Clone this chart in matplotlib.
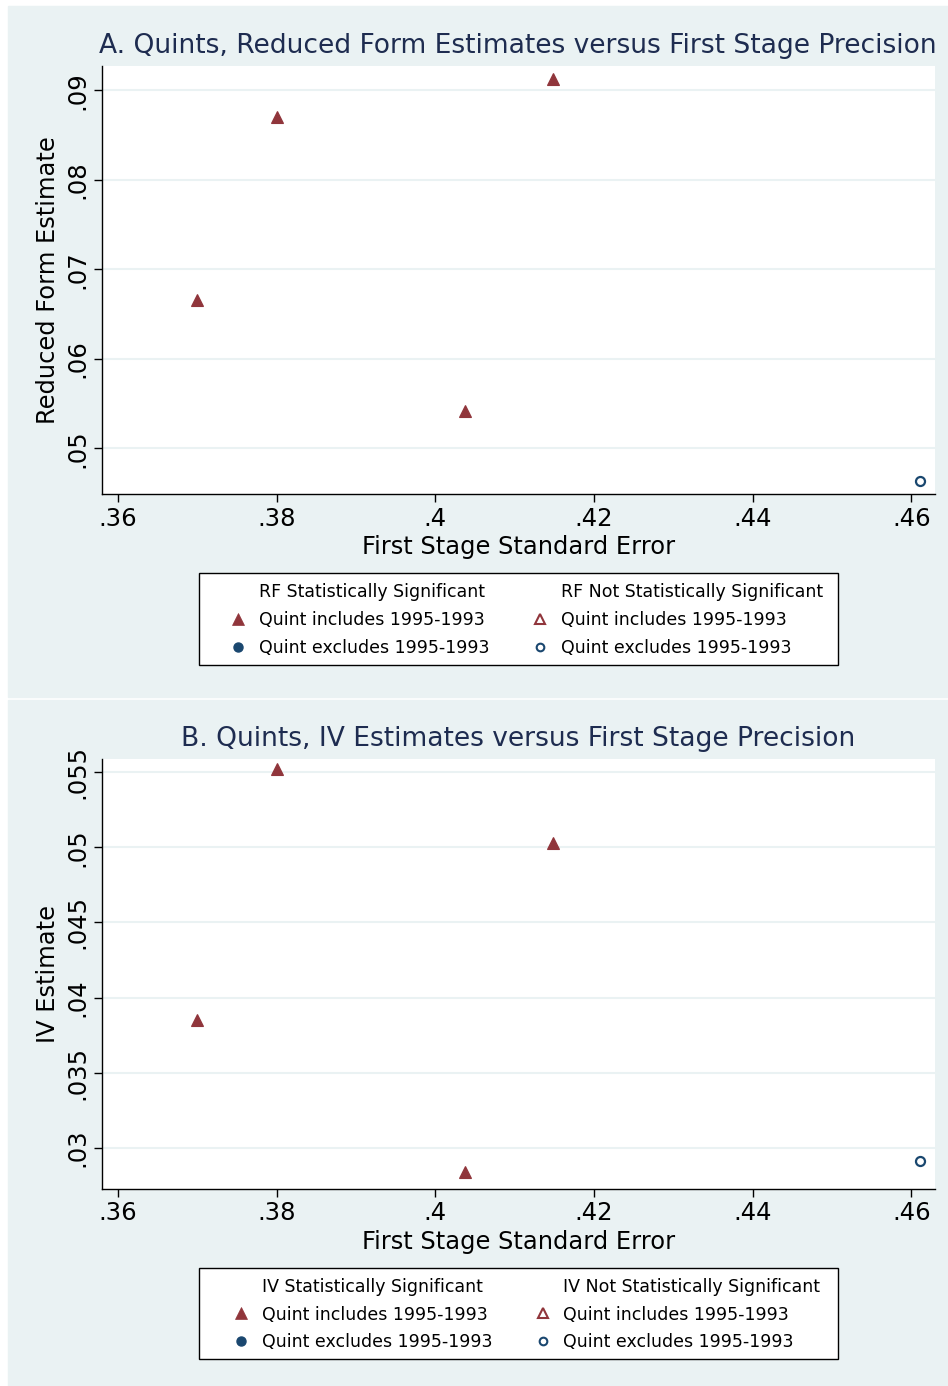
import matplotlib
matplotlib.use("Agg")
import matplotlib.pyplot as plt
from matplotlib.lines import Line2D
from matplotlib.patches import Rectangle

# first stage standard errors of the quints
fs_se = [0.370, 0.380, 0.4038, 0.4149, 0.4611]
# reduced form estimates
rf_est = [0.0666, 0.0870, 0.0542, 0.0912, 0.0464]
# IV estimates
iv_est = [0.0385, 0.0552, 0.0284, 0.0503, 0.0291]
# does the quint include 1995-1993, is the estimate significant
includes = [True, True, True, True, False]
rf_signif = [True, True, True, True, False]
iv_signif = [True, True, True, True, False]

x_ticks = [0.36, 0.38, 0.40, 0.42, 0.44, 0.46]
x_ticklabels = [".36", ".38", ".4", ".42", ".44", ".46"]
rf_ticks = [0.05, 0.06, 0.07, 0.08, 0.09]
rf_ticklabels = [".05", ".06", ".07", ".08", ".09"]
iv_ticks = [0.03, 0.035, 0.04, 0.045, 0.05, 0.055]
iv_ticklabels = [".03", ".035", ".04", ".045", ".05", ".055"]

RED = "#90353b"
NAVY = "#1a476f"
BG = "#eaf2f3"
TITLE = "#1e2c50"

W, H = 948, 1386
fig = plt.figure(figsize=(W / 100, H / 100), dpi=100, facecolor="white")


def fx(px):
    return px / W


def fy(py):
    return 1 - py / H


# panel backgrounds
fig.patches.append(Rectangle((fx(8), fy(697)), fx(940), 691 / H,
                             transform=fig.transFigure, color=BG, zorder=-10))
fig.patches.append(Rectangle((fx(8), fy(1386)), fx(940), 686 / H,
                             transform=fig.transFigure, color=BG, zorder=-10))


def panel(top, bottom, yvals, signif, ylim, yticks, yticklabels, ylabel,
          title, title_y, tag, box):
    ax = fig.add_axes([fx(102), fy(bottom), fx(935 - 102), (bottom - top) / H])
    ax.set_facecolor("white")
    for x, y, inc, sig in zip(fs_se, yvals, includes, signif):
        mk = "^" if inc else "o"
        col = RED if inc else NAVY
        ms = 9 if inc else 6.5
        face = col if sig else "none"
        ax.plot(x, y, marker=mk, ms=ms, mfc=face, mec=col,
                mew=0.8 if sig else 1.6, ls="none", zorder=3)
    ax.set_xlim(0.358, 0.463)
    ax.set_ylim(*ylim)
    ax.set_xticks(x_ticks)
    ax.set_xticklabels(x_ticklabels)
    ax.set_yticks(yticks)
    ax.set_yticklabels(yticklabels, rotation=90, va="center")
    ax.grid(axis="y", color=BG, lw=1.5)
    ax.set_axisbelow(True)
    for s in ["top", "right"]:
        ax.spines[s].set_visible(False)
    for s in ["left", "bottom"]:
        ax.spines[s].set_linewidth(1.0)
    ax.tick_params(labelsize=17.5, length=6, width=1, direction="out", pad=3)
    ax.set_xlabel("First Stage Standard Error", fontsize=17.4, labelpad=3)
    ax.set_ylabel(ylabel, fontsize=17.4, labelpad=4)
    fig.text(fx(518), fy(title_y), title, fontsize=19.1, color=TITLE,
             ha="center", va="center")

    # legend box drawn by hand, legend itself frameless
    x0, y0, x1, y1 = box
    fig.patches.append(Rectangle((fx(x0), fy(y1)), (x1 - x0) / W, (y1 - y0) / H,
                                 transform=fig.transFigure, facecolor="white",
                                 edgecolor="black", lw=1.0, zorder=1))
    blank = Line2D([], [], ls="none", marker="None")
    h = [blank,
         Line2D([], [], ls="none", marker="^", ms=9, mew=0.5, color=RED),
         Line2D([], [], ls="none", marker="o", ms=6.5, color=NAVY),
         blank,
         Line2D([], [], ls="none", marker="^", ms=7, mfc="none", mec=RED, mew=1.5),
         Line2D([], [], ls="none", marker="o", ms=5.5, mfc="none", mec=NAVY, mew=1.5)]
    labels = [tag + " Statistically Significant", "Quint includes 1995-1993",
              "Quint excludes 1995-1993",
              tag + " Not Statistically Significant", "Quint includes 1995-1993",
              "Quint excludes 1995-1993"]
    leg = fig.legend(h, labels, ncol=2, loc="center",
                     bbox_to_anchor=(fx((x0 + x1) / 2 + 7), fy((y0 + y1) / 2 + 1)),
                     fontsize=12.5, frameon=False,
                     handlelength=1.2, handletextpad=0.6, columnspacing=2.3,
                     labelspacing=0.56, borderpad=0.0)
    leg.set_zorder(2)
    return ax


panel(66, 494, rf_est, rf_signif, (0.0449, 0.0927), rf_ticks, rf_ticklabels,
      "Reduced Form Estimate",
      "A. Quints, Reduced Form Estimates versus First Stage Precision", 46,
      "RF", (199, 573, 838, 665))
panel(759, 1189, iv_est, iv_signif, (0.02727, 0.05587), iv_ticks, iv_ticklabels,
      "IV Estimate",
      "B. Quints, IV Estimates versus First Stage Precision", 739,
      "IV", (199, 1268, 838, 1359))

fig.savefig("out.png", dpi=100, facecolor="white")
